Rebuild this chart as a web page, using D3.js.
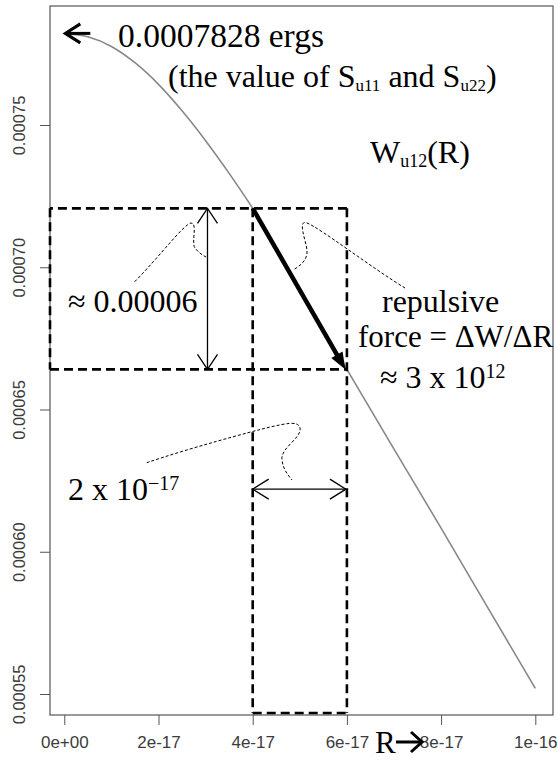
<!DOCTYPE html>
<html><head><meta charset="utf-8">
<script src="https://cdn.jsdelivr.net/npm/d3@7"></script>
<style>html,body{margin:0;padding:0;background:#fff;}</style>
</head><body>
<script>
// ---- data ----
const R = [0, 0.5e-17, 1e-17, 1.5e-17, 2e-17, 2.5e-17, 3e-17, 3.5e-17, 4e-17, 5e-17, 6e-17, 7e-17, 8e-17, 9e-17, 1e-16];
const W = [0.0007822, 0.0007810, 0.0007776, 0.0007719, 0.0007643, 0.0007550, 0.0007445, 0.0007330, 0.0007207, 0.0006925, 0.0006641, 0.0006361, 0.0006083, 0.0005801, 0.0005520];
const xTicks = [0, 2e-17, 4e-17, 6e-17, 8e-17, 1e-16];
const xTickLabels = ["0e+00", "2e-17", "4e-17", "6e-17", "8e-17", "1e-16"];
const yTicks = [0.00055, 0.00060, 0.00065, 0.00070, 0.00075];
const yTickLabels = ["0.00055", "0.00060", "0.00065", "0.00070", "0.00075"];
// annotation anchors (data units)
const rLo = 4e-17, rHi = 6e-17;
const wLo = W[R.indexOf(rLo)], wHi = W[R.indexOf(rHi)];
const rVArrow = 3.04e-17;      // vertical double arrow position
const wHArrow = 0.000622;      // horizontal double arrow level
const wRectBottom = 0.0005433; // bottom of the tall dashed box

const width = 558, height = 761;
const box = {l: 50, r: 553, t: 6, b: 715};
const x = d3.scaleLinear().domain([0, 1e-16]).range([64.3, 535.3]);
const y = d3.scaleLinear().domain([0.00055, 0.00075]).range([694, 125]);

const svg = d3.select("body").append("svg").attr("width", width).attr("height", height)
  .style("font-family", "'Liberation Serif','Times New Roman',serif");
svg.append("rect").attr("width", width).attr("height", height).attr("fill", "#fff");

const axisCol = "#555", labCol = "#3c3c3c";
// axes
const xAxis = svg.append("g").attr("transform", `translate(0,${box.b})`)
  .call(d3.axisBottom(x).tickValues(xTicks).tickFormat((d, i) => xTickLabels[i]).tickSize(10).tickPadding(11));
xAxis.select(".domain").remove();
xAxis.selectAll("line").attr("stroke", axisCol);
xAxis.selectAll("text").attr("fill", labCol).style("font-family", "'Liberation Sans',Arial,sans-serif").style("font-size", "17px")
  .attr("dy", "0.71em");

const yAxis = svg.append("g").attr("transform", `translate(${box.l},0)`)
  .call(d3.axisLeft(y).tickValues(yTicks).tickFormat((d, i) => yTickLabels[i]).tickSize(10));
yAxis.select(".domain").remove();
yAxis.selectAll("line").attr("stroke", axisCol);
yAxis.selectAll("text").attr("fill", labCol).style("font-family", "'Liberation Sans',Arial,sans-serif").style("font-size", "16.5px")
  .attr("x", null).attr("dy", null).attr("text-anchor", "middle")
  .attr("transform", `translate(-25,0) rotate(-90)`);

// plot box
svg.append("rect").attr("x", box.l).attr("y", box.t).attr("width", box.r - box.l).attr("height", box.b - box.t)
  .attr("fill", "none").attr("stroke", axisCol).attr("stroke-width", 1.2);

// curve
const line = d3.line().x((d, i) => x(R[i])).y(d => y(d)).curve(d3.curveMonotoneX);
svg.append("path").attr("d", line(W)).attr("fill", "none").attr("stroke", "#888").attr("stroke-width", 1.6);

// dashed boxes
const dash = {stroke: "#000", "stroke-width": 2.6, "stroke-dasharray": "9,5", fill: "none"};
function dl(pts) {
  const p = svg.append("path").attr("d", d3.line()(pts));
  Object.entries(dash).forEach(([k, v]) => p.attr(k, v));
}
dl([[x(rHi), y(wLo)], [box.l, y(wLo)]]);
dl([[box.l, y(wLo)], [box.l, y(wHi)]]);
dl([[box.l, y(wHi)], [x(rHi), y(wHi)]]);
dl([[x(rLo), y(wLo)], [x(rLo), y(wRectBottom)]]);
dl([[x(rHi), y(wLo)], [x(rHi), y(wRectBottom)]]);
dl([[x(rLo), y(wRectBottom)], [x(rHi), y(wRectBottom)]]);

// helpers for arrowheads
function openHead(tx, ty, dx, dy, len, half, sw) {
  const L = Math.hypot(dx, dy), ux = dx / L, uy = dy / L;
  const bx = tx - ux * len, by = ty - uy * len;
  svg.append("path").attr("d", `M${bx - uy * half},${by + ux * half}L${tx},${ty}L${bx + uy * half},${by - ux * half}`)
    .attr("fill", "none").attr("stroke", "#000").attr("stroke-width", sw);
}

// thick arrow along the curve
{
  const x0 = x(rLo), y0 = y(wLo), x1 = x(rHi) - 1.5, y1 = y(wHi);
  const dx = x1 - x0, dy = y1 - y0, L = Math.hypot(dx, dy), ux = dx / L, uy = dy / L;
  const hl = 17, hw = 6.5;
  svg.append("line").attr("x1", x0).attr("y1", y0).attr("x2", x1 - ux * hl * 0.8).attr("y2", y1 - uy * hl * 0.8)
    .attr("stroke", "#000").attr("stroke-width", 4.5);
  const bx = x1 - ux * hl, by = y1 - uy * hl;
  svg.append("path").attr("d", `M${x1},${y1}L${bx - uy * hw},${by + ux * hw}L${bx + uy * hw},${by - ux * hw}Z`).attr("fill", "#000");
}

// vertical double arrow
{
  const xv = x(rVArrow), ya = y(wLo), yb = y(wHi);
  svg.append("line").attr("x1", xv).attr("x2", xv).attr("y1", ya).attr("y2", yb).attr("stroke", "#000").attr("stroke-width", 1.3);
  openHead(xv, ya, 0, -1, 15, 10, 1.3);
  openHead(xv, yb, 0, 1, 15, 10, 1.3);
}
// horizontal double arrow
{
  const yh = y(wHArrow), xa = x(rLo), xb = x(rHi) - 1;
  svg.append("line").attr("x1", xa).attr("x2", xb).attr("y1", yh).attr("y2", yh).attr("stroke", "#000").attr("stroke-width", 1.3);
  openHead(xa, yh, -1, 0, 16, 10, 1.3);
  openHead(xb, yh, 1, 0, 16, 10, 1.3);
}
// arrow pointing at the top of the curve
{
  const tx = x(0) + 1, ty = y(W[0]);
  svg.append("line").attr("x1", tx).attr("x2", tx + 25).attr("y1", ty).attr("y2", ty).attr("stroke", "#000").attr("stroke-width", 3);
  openHead(tx, ty, -1, 0, 15, 9.5, 3);
}
// R -> arrow
{
  svg.append("line").attr("x1", 396).attr("x2", 421).attr("y1", 742).attr("y2", 742).attr("stroke", "#000").attr("stroke-width", 3);
  openHead(422, 742, 1, 0, 11, 10, 3);
}

// leader (thin dashed) curves
const lead = [
  "M134.7,281.7 C160,256 184,224 191,223 C198,223 191,243 195,248 C198,252 202,255 206,257",
  "M405,288 C372,268 320,228 307,223 C297,219 306,241 307,250 C308,260 300,266 293,270",
  "M146.7,462.7 C190,448 250,432 270,427 C285,424 298,420 300,428 C302,438 280,448 282,460 C283,470 289,476 292,480"
];
lead.forEach(d => svg.append("path").attr("d", d).attr("fill", "none").attr("stroke", "#000")
  .attr("stroke-width", 1).attr("stroke-dasharray", "3,2"));

// texts
const fs = 32, sub = 17, sup = 20;
function txt(xp, yp, parts, size) {
  const t = svg.append("text").attr("x", xp).attr("y", yp).style("font-size", (size || fs) + "px").attr("fill", "#000");
  parts.forEach(p => {
    const s = t.append("tspan").text(p.t);
    if (p.size) s.style("font-size", p.size + "px");
    if (p.dy) s.attr("dy", p.dy);
  });
  return t;
}
txt(118, 46.5, [{t: "0.0007828 ergs"}], 33.5);
txt(168, 87, [{t: "(the value of S"}, {t: "u11", size: sub, dy: 4}, {t: " and S", dy: -4}, {t: "u22", size: sub, dy: 4}, {t: ")", dy: -4}]);
txt(370, 163, [{t: "W"}, {t: "u12", size: sub + 1, dy: 4}, {t: "(R)", dy: -4}]);
txt(68, 311.5, [{t: "≈ 0.00006"}]);
txt(382, 311.5, [{t: "repulsive"}]);
txt(358, 347, [{t: "force = ΔW/ΔR"}], 31);
txt(380, 388.3, [{t: "≈ 3 x 10"}, {t: "12", size: sup, dy: -10}]);
txt(68, 500, [{t: "2 x 10"}, {t: "−17", size: sup, dy: -10}]);
txt(375, 753, [{t: "R"}], 31);
</script>
</body></html>
